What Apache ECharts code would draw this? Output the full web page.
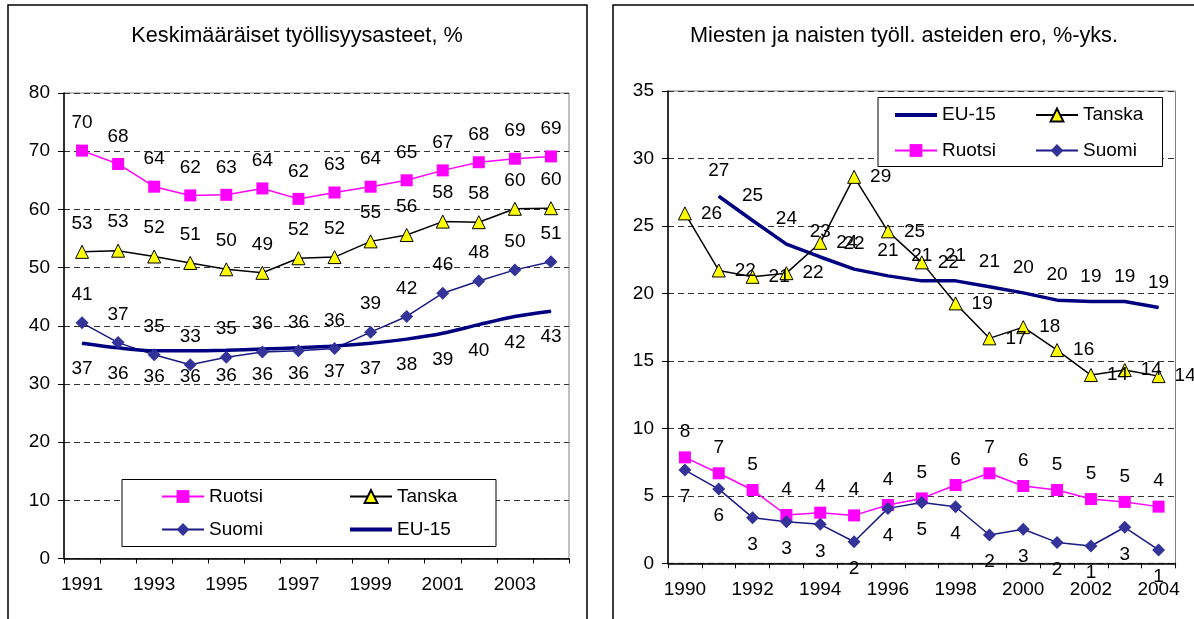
<!DOCTYPE html>
<html>
<head>
<meta charset="utf-8">
<script src="https://cdn.jsdelivr.net/npm/echarts@6/dist/echarts.min.js"></script>
<style>
  html, body { margin: 0; padding: 0; background: #fff; }
  #chart { width: 1194px; height: 619px; }
</style>
</head>
<body>
<div id="chart"></div>
<script>
// vasen kuva: keskimääräiset työllisyysasteet, %
const vuodetTyo = ['1991', '1992', '1993', '1994', '1995', '1996', '1997', '1998', '1999', '2000', '2001', '2002', '2003', '2004'];
const ruotsiTyo = [70.1, 67.8, 63.9, 62.4, 62.5, 63.6, 61.8, 62.9, 63.9, 65.0, 66.7, 68.1, 68.7, 69.1];
const tanskaTyo = [52.7, 52.9, 51.9, 50.8, 49.7, 49.1, 51.6, 51.8, 54.5, 55.6, 57.9, 57.8, 60.1, 60.2];
const suomiTyo = [40.5, 37.1, 35.0, 33.3, 34.6, 35.5, 35.7, 36.1, 38.9, 41.6, 45.6, 47.7, 49.6, 51.0];
const euTyo = [37.0, 36.2, 35.7, 35.7, 35.8, 36.0, 36.2, 36.5, 37.0, 37.7, 38.7, 40.2, 41.6, 42.5];

// oikea kuva: miesten ja naisten työll. asteiden ero, %-yks.
const vuodetEro = ['1990', '1991', '1992', '1993', '1994', '1995', '1996', '1997', '1998', '1999', '2000', '2001', '2002', '2003', '2004'];
const euEro = [null, 27.2, 25.4, 23.65, 22.7, 21.8, 21.3, 20.93, 20.93, 20.5, 20.04, 19.5, 19.4, 19.4, 18.96];
const tanskaEro = [25.93, 21.7, 21.23, 21.5, 23.75, 28.64, 24.6, 22.3, 19.26, 16.67, 17.5, 15.8, 13.95, 14.32, 13.87];
const ruotsiEro = [7.85, 6.67, 5.43, 3.58, 3.75, 3.55, 4.32, 4.81, 5.8, 6.67, 5.73, 5.43, 4.76, 4.55, 4.2];
const suomiEro = [6.91, 5.5, 3.38, 3.08, 2.89, 1.6, 4.07, 4.5, 4.19, 2.1, 2.52, 1.55, 1.28, 2.67, 0.99];

const FONT = 'Liberation Sans, Arial, sans-serif';
const chart = echarts.init(document.getElementById('chart'));

// yhteinen tyyli datalabeleille
function lbl(pos, dist) {
  return {
    show: true, position: pos, distance: dist,
    fontFamily: FONT, fontSize: 19, color: '#000',
    formatter: (p) => Math.round(p.value)
  };
}

const ruotsiStyle = { symbol: 'rect', symbolSize: 12, itemStyle: { color: '#FF00FF' }, lineStyle: { color: '#FF00FF', width: 1.5 } };
const tanskaStyle = { symbol: 'triangle', symbolSize: 13, itemStyle: { color: '#FFFF00', borderColor: '#000', borderWidth: 1 }, lineStyle: { color: '#000', width: 1.5 } };
const suomiStyle = { symbol: 'diamond', symbolSize: 13, itemStyle: { color: '#333399' }, lineStyle: { color: '#1a1a85', width: 1.5 } };
const euStyle = { symbol: 'circle', symbolSize: 1, itemStyle: { color: '#000080' }, lineStyle: { color: '#000080', width: 3.5 } };

function xAx(grid, data) {
  return {
    type: 'category', gridIndex: grid, data: data, boundaryGap: true,
    axisLine: { lineStyle: { color: '#000', width: 1.5 } },
    axisTick: { show: true, interval: 0, length: 5, lineStyle: { color: '#000' } },
    axisLabel: { interval: 1, margin: 17, fontFamily: FONT, fontSize: 19, color: '#000' },
    splitLine: { show: false }
  };
}
function yAx(grid, max, step) {
  return {
    type: 'value', gridIndex: grid, min: 0, max: max, interval: step,
    axisLine: { show: true, lineStyle: { color: '#000', width: 1.5 } },
    axisTick: { show: true, length: 6, lineStyle: { color: '#000' } },
    axisLabel: { margin: 14, fontFamily: FONT, fontSize: 19, color: '#000' },
    splitLine: { lineStyle: { color: '#333', type: [6, 4], width: 1 } }
  };
}
function legendCol(left, top, names, gap) {
  return {
    left: left, top: top, orient: 'vertical', itemGap: gap, padding: 0,
    itemWidth: 42, itemHeight: 16,
    textStyle: { fontFamily: FONT, fontSize: 19, color: '#000' },
    data: names.map(n => n === 'EU-15'
      ? { name: n, itemStyle: { opacity: 0 }, lineStyle: { width: 4 } }
      : n)
  };
}

const option = {
  animation: false,
  backgroundColor: '#fff',
  grid: [
    { left: 64, top: 93, width: 505, height: 465.5, show: true, borderColor: '#808080', borderWidth: 1 },
    { left: 668, top: 91, width: 507.5, height: 472.3, show: true, borderColor: '#808080', borderWidth: 1 }
  ],
  xAxis: [xAx(0, vuodetTyo), xAx(1, vuodetEro)],
  yAxis: [yAx(0, 80, 10), yAx(1, 35, 5)],
  legend: [
    legendCol(161, 487, ['Ruotsi', 'Suomi'], 14),
    legendCol(348, 487, ['Tanska', 'EU-15'], 14),
    legendCol(893, 105.5, ['EU-15', 'Ruotsi'], 16.5),
    legendCol(1035, 105.5, ['Tanska', 'Suomi'], 16.5)
  ],
  graphic: [
    { type: 'rect', z: 1, shape: { x: 8, y: 5, width: 579, height: 700 }, style: { fill: 'none', stroke: '#000', lineWidth: 1.5 } },
    { type: 'rect', z: 1, shape: { x: 613, y: 5, width: 600, height: 700 }, style: { fill: 'none', stroke: '#000', lineWidth: 1.5 } },
    { type: 'rect', z: 1, shape: { x: 122, y: 479.5, width: 374, height: 67 }, style: { fill: '#fff', stroke: '#000', lineWidth: 1 } },
    { type: 'rect', z: 1, shape: { x: 878, y: 97.5, width: 284.5, height: 69 }, style: { fill: '#fff', stroke: '#000', lineWidth: 1 } },
    { type: 'text', x: 297, y: 36.5, style: { text: 'Keskimääräiset työllisyysasteet, %', font: '21.7px ' + FONT, fill: '#000', align: 'center', verticalAlign: 'middle' } },
    { type: 'text', x: 904, y: 36.5, style: { text: 'Miesten ja naisten työll. asteiden ero, %-yks.', font: '21.7px ' + FONT, fill: '#000', align: 'center', verticalAlign: 'middle' } }
  ],
  series: [
    Object.assign({ name: 'Ruotsi', type: 'line', xAxisIndex: 0, yAxisIndex: 0, data: ruotsiTyo, label: lbl('top', 12) }, ruotsiStyle),
    Object.assign({ name: 'Tanska', type: 'line', xAxisIndex: 0, yAxisIndex: 0, data: tanskaTyo, label: lbl('top', 12) }, tanskaStyle),
    Object.assign({ name: 'Suomi', type: 'line', xAxisIndex: 0, yAxisIndex: 0, data: suomiTyo, label: lbl('top', 12) }, suomiStyle),
    Object.assign({ name: 'EU-15', type: 'line', xAxisIndex: 0, yAxisIndex: 0, data: euTyo, smooth: 0.3, label: lbl('bottom', 16) }, euStyle),

    Object.assign({ name: 'EU-15', type: 'line', xAxisIndex: 1, yAxisIndex: 1, data: euEro, label: lbl('top', 15) }, euStyle),
    Object.assign({ name: 'Tanska', type: 'line', xAxisIndex: 1, yAxisIndex: 1, data: tanskaEro, label: lbl('right', 9) }, tanskaStyle),
    Object.assign({ name: 'Ruotsi', type: 'line', xAxisIndex: 1, yAxisIndex: 1, data: ruotsiEro, label: lbl('top', 10) }, ruotsiStyle),
    Object.assign({ name: 'Suomi', type: 'line', xAxisIndex: 1, yAxisIndex: 1, data: suomiEro, label: lbl('bottom', 11) }, suomiStyle)
  ]
};

chart.setOption(option);
</script>
</body>
</html>
